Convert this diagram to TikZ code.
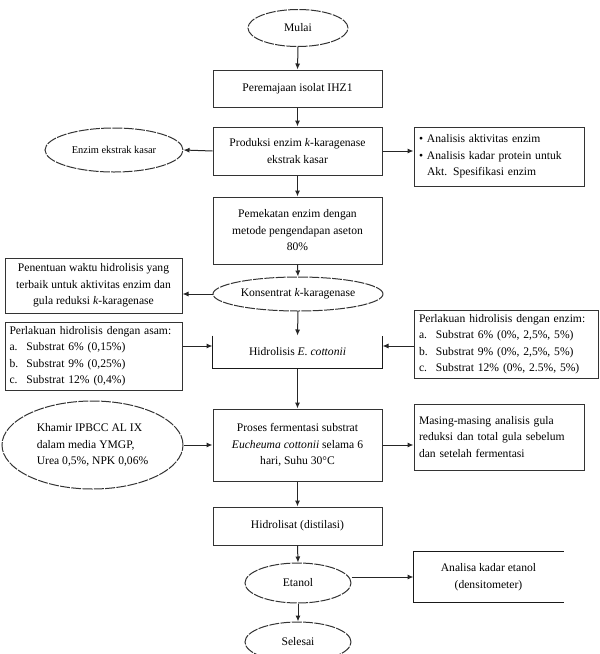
\documentclass[tikz,border=0pt]{standalone}
\usepackage{fontspec}
\setmainfont{Liberation Serif}
\usetikzlibrary{shapes.geometric,arrows.meta,calc}
\begin{document}
\begin{tikzpicture}[x=1pt,y=-1pt,
  base/.style={draw=black!80, line width=1pt, inner sep=0pt, font=\fontsize{11.6}{16.5}\selectfont},
  box/.style={base, rectangle, align=center},
  oval/.style={base, ellipse, align=center, dash pattern=on 10pt off 1.3pt},
  openline/.style={draw=black!90, line width=1.2pt},
  arr/.style={draw=black!85, line width=1pt, -{Latex[length=6pt,width=5pt]}},
]
\useasboundingbox (0,0) rectangle (600,654);
\newcommand{\itm}[1]{\makebox[17pt][l]{#1}}
\node[oval, minimum width=100pt, minimum height=37pt] (mulai) at (298,28) {Mulai};
\node[box, minimum width=169pt, minimum height=37pt] (per) at (297.5,88.5) {Peremajaan isolat IHZ1};
\node[box, minimum width=169pt, minimum height=48pt] (prod) at (297.5,151) {Produksi enzim \textit{k}-karagenase\\ekstrak kasar};
\node[oval, minimum width=138pt, minimum height=44pt, font=\fontsize{10.4}{12}\selectfont] (eks) at (114,150) {Enzim ekstrak kasar};
\node[box, minimum width=170pt, minimum height=59pt, align=left, text width=160pt] (anl) at (499,156.5) {\makebox[8pt][l]{\textbullet}Analisis aktivitas enzim\\\makebox[8pt][l]{\textbullet}Analisis kadar protein untuk\\\makebox[8pt][l]{}Akt. Spesifikasi enzim};
\node[box, minimum width=169pt, minimum height=67pt] (pem) at (297.5,230.5) {Pemekatan enzim dengan\\metode pengendapan aseton\\80\%};
\node[box, minimum width=177pt, minimum height=55pt] (pen) at (93.5,285.5) {Penentuan waktu hidrolisis yang\\terbaik untuk aktivitas enzim dan\\gula reduksi \textit{k}-karagenase};
\node[oval, minimum width=170pt, minimum height=34pt] (kon) at (298,294) {Konsentrat \textit{k}-karagenase};
\node[box, minimum width=177pt, minimum height=68pt, align=left, text width=168pt] (asam) at (93.5,356) {Perlakuan hidrolisis dengan asam:\\\itm{a.}Substrat 6\% (0,15\%)\\\itm{b.}Substrat 9\% (0,25\%)\\\itm{c.}Substrat 12\% (0,4\%)};
\node[base, draw=none, rectangle, minimum width=169pt, minimum height=32pt] (hid) at (297.5,352) {Hidrolisis \textit{E. cottonii}};
\draw[openline] (hid.north west) -- (hid.south west) -- (hid.south east) -- (hid.north east);
\coordinate (hidL) at ($(hid.west)+(0,-6)$);
\coordinate (hidR) at ($(hid.east)+(0,-6)$);
\node[box, minimum width=184pt, minimum height=68pt, align=left, text width=174pt] (enz) at (506,344) {Perlakuan hidrolisis dengan enzim:\\\itm{a.}Substrat 6\% (0\%, 2,5\%, 5\%)\\\itm{b.}Substrat 9\% (0\%, 2,5\%, 5\%)\\\itm{c.}Substrat 12\% (0\%, 2.5\%, 5\%)};
\node[oval, minimum width=181pt, minimum height=88pt, align=left] (kha) at (92.5,445) {Khamir IPBCC AL IX\\dalam media YMGP,\\Urea 0,5\%, NPK 0,06\%};
\node[box, minimum width=169pt, minimum height=72pt] (pro) at (297.5,445) {Proses fermentasi substrat\\\textit{Eucheuma cottonii} selama 6\\hari, Suhu 30°C};
\node[box, minimum width=170pt, minimum height=66pt, align=left, text width=160pt] (mas) at (499,437) {Masing-masing analisis gula\\reduksi dan total gula sebelum\\dan setelah fermentasi};
\node[box, minimum width=169pt, minimum height=38pt] (hil) at (297.5,526) {Hidrolisat (distilasi)};
\node[oval, minimum width=106pt, minimum height=40pt] (eta) at (298,583) {Etanol};
\node[base, draw=none, rectangle, minimum width=149pt, minimum height=50pt, align=center] (ana) at (488.5,577) {Analisa kadar etanol\\(densitometer)};
\draw[openline] (ana.north east) -- (ana.north west) -- (ana.south west) -- (ana.south east);
\node[oval, minimum width=106pt, minimum height=40pt] (sel) at (298,642) {Selesai};
% connectors
\draw[arr] (mulai.south) -- (per.north);
\draw[arr] (per.south) -- (prod.north);
\draw[arr] (prod.west) -- (eks.east);
\draw[arr] (prod.east) -- (anl.west |- prod.east);
\draw[arr] (prod.south) -- (pem.north);
\draw[arr] (pem.south) -- (kon.north);
\draw[arr] (kon.west) -- (pen.east |- kon.west);
\draw[arr] (kon.south) -- (hid.north);
\draw[arr] (asam.east |- hidL) -- (hidL);
\draw[arr] (enz.west |- hidR) -- (hidR);
\draw[arr] (hid.south) -- (pro.north);
\draw[arr] (kha.east) -- (pro.west |- kha.east);
\draw[arr] (pro.east) -- (mas.west |- pro.east);
\draw[arr] (pro.south) -- (hil.north);
\draw[arr] (hil.south) -- (eta.north);
\draw[arr] (eta.east |- ana.west) -- (ana.west);
\draw[arr] (eta.south) -- (sel.north);
\end{tikzpicture}
\end{document}
